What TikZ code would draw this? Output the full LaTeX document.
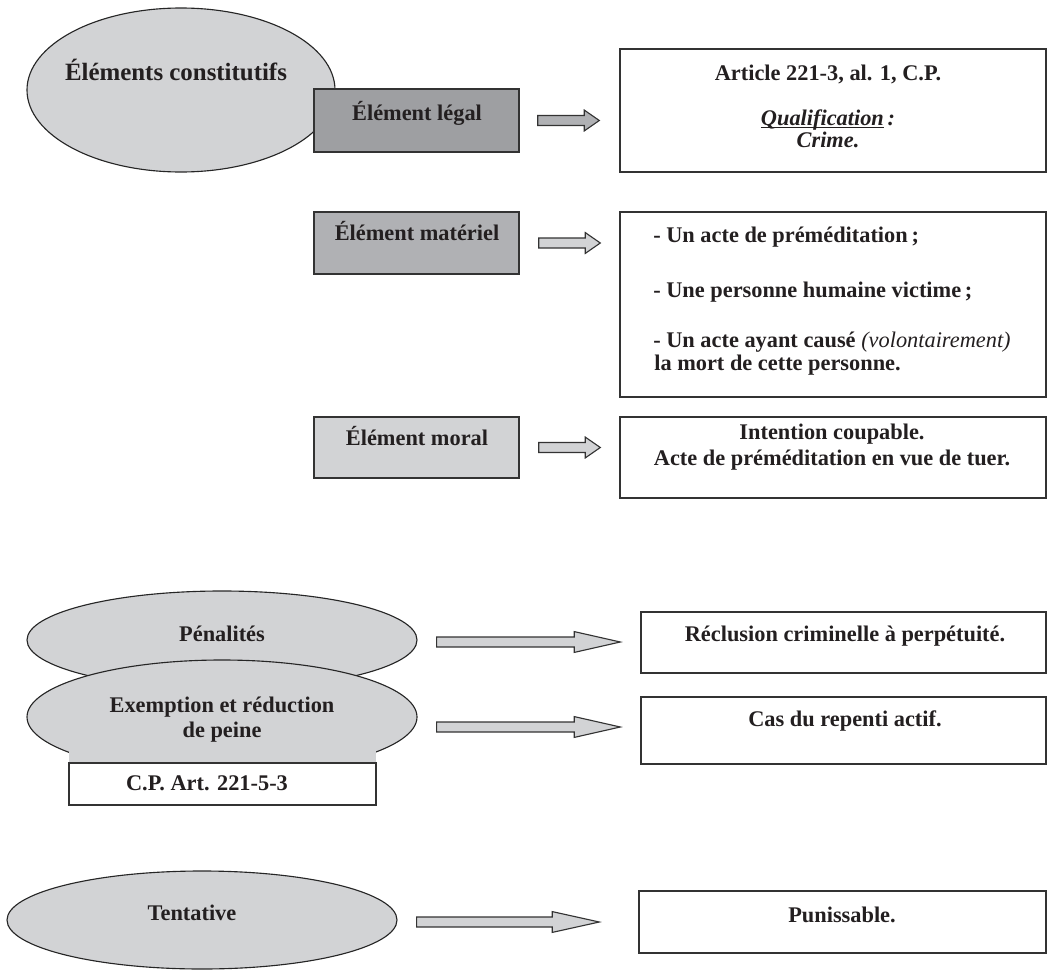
\documentclass[tikz,border=0pt]{standalone}
\usepackage{fontspec}
\setmainfont{Liberation Serif}
\usetikzlibrary{positioning, calc, shapes.geometric}

\definecolor{darkfill}{RGB}{158,159,162}
\definecolor{midfill}{RGB}{176,177,180}
\definecolor{lightfill}{RGB}{210,211,213}
\definecolor{inkcol}{RGB}{35,31,32}

\tikzset{
	boxline/.style={draw=black!80, line width=1pt},
	bubble/.style={draw=black!85, line width=0.8pt, ellipse, fill=lightfill, inner sep=0pt},
	tag/.style={boxline, rectangle, inner sep=0pt},
	txt/.style={text=inkcol, font=\fontsize{15.9}{18}\selectfont\bfseries, inner sep=0pt, text height=0.37cm, text depth=0pt},
	bigtxt/.style={txt, font=\fontsize{17.7}{20}\selectfont\bfseries, text height=0.41cm},
	arrowline/.style={draw=black!80, line width=0.8pt, line join=miter},
}

% underline set just below the baseline, through the descenders
\newcommand{\lowline}[1]{\setbox0\hbox{#1}\rlap{\rule[-1.9pt]{\wd0}{0.9pt}}\box0}

% block arrow: fill, start, target node, gap before target, head length
\newcommand{\blockarrow}[5]{%
	\coordinate (arrowtail) at (#2);
	\coordinate (arrowtip) at ($(#3.west |- arrowtail)+(-#4,0)$);
	\draw[arrowline, fill=#1]
		($(arrowtail)+(0,0.125)$) -- ($(arrowtip)+(-#5,0.125)$) -- ($(arrowtip)+(-#5,0.26)$)
		-- (arrowtip) -- ($(arrowtip)+(-#5,-0.26)$) -- ($(arrowtip)+(-#5,-0.125)$)
		-- ($(arrowtail)+(0,-0.125)$) -- cycle;
}

\begin{document}
\begin{tikzpicture}
	\useasboundingbox (0,0) rectangle (26.2,-24.275);

	% elements constitutifs
	\node[bubble, minimum width=7.7cm, minimum height=4.1cm] at (4.525, -2.25) (constitutifs) {};
	\node[bigtxt] at (4.4, -1.8) (constitutifsT) {Éléments constitutifs};

	\node[tag, fill=darkfill, minimum width=5.125cm, minimum height=1.575cm] at (10.4125, -3.0125) (legal) {};
	\node[txt] at (10.425, -2.825) (legalT) {Élément légal};
	\node[tag, minimum width=10.65cm, minimum height=3.075cm] at (20.825, -2.7625) (article) {};
	\node[txt] at (20.7, -1.825) (articleA) {Article 221-3, al. 1, C.P.};
	\node[txt] at (20.7, -2.95) (articleB) {\itshape\lowline{Qualification}\,:};
	\node[txt] at (20.7, -3.5) (articleC) {\itshape Crime.};

	\node[tag, fill=midfill, minimum width=5.125cm, minimum height=1.55cm] at (10.4125, -6.075) (materiel) {};
	\node[txt] at (10.425, -5.825) (materielT) {Élément matériel};
	\node[tag, minimum width=10.65cm, minimum height=4.625cm] at (20.825, -7.6125) (materielbox) {};
	\node[txt, anchor=west] at (16.325, -5.875) (materielA) {- Un acte de préméditation\,;};
	\node[txt, anchor=west] at (16.325, -7.25) (materielB) {- Une personne humaine victime\,;};
	\node[txt, anchor=west] at (16.325, -8.5) (materielC) {- Un acte ayant causé \textnormal{\itshape(volontairement)}};
	\node[txt, anchor=west] at (16.35, -9.075) (materielD) {la mort de cette personne.};

	\node[tag, fill=lightfill, minimum width=5.125cm, minimum height=1.525cm] at (10.4125, -11.1875) (moral) {};
	\node[txt] at (10.425, -10.95) (moralT) {Élément moral};
	\node[tag, minimum width=10.65cm, minimum height=2.025cm] at (20.825, -11.4375) (moralbox) {};
	\node[txt] at (20.8, -10.8) (moralA) {Intention coupable.};
	\node[txt] at (20.8, -11.45) (moralB) {Acte de préméditation en vue de tuer.};

	\blockarrow{midfill}{$(legal.east)+(0.45,0)$}{article}{0.5}{0.375}
	\blockarrow{lightfill}{$(materiel.east)+(0.475,0)$}{materielbox}{0.475}{0.375}
	\blockarrow{lightfill}{$(moral.east)+(0.475,0)$}{moralbox}{0.475}{0.375}

	% peines
	\node[bubble, minimum width=9.75cm, minimum height=2.45cm] at (5.55, -16.0) (penalites) {};
	\node[txt] at (5.55, -15.85) (penalitesT) {Pénalités};
	\node[bubble, minimum width=9.75cm, minimum height=2.85cm] at (5.55, -17.925) (exemption) {};
	\node[txt] at (5.55, -17.625) (exemptionA) {Exemption et réduction};
	\node[txt] at (5.55, -18.25) (exemptionB) {de peine};
	\node[tag, fill=white, minimum width=7.675cm, minimum height=1.05cm] at (5.5625, -19.6) (cpbox) {};
	\fill[lightfill] ($(cpbox.north west)+(0.02,0.275)$) rectangle ($(cpbox.north east)+(-0.02,0.02)$);
	\node[txt] at (5.175, -19.575) (cpT) {C.P. Art. 221-5-3};

	\node[tag, minimum width=10.125cm, minimum height=1.525cm] at (21.0875, -16.0625) (reclusion) {};
	\node[txt] at (21.125, -15.85) (reclusionT) {Réclusion criminelle à perpétuité.};
	\node[tag, minimum width=10.125cm, minimum height=1.675cm] at (21.0875, -18.2625) (repenti) {};
	\node[txt] at (21.125, -17.975) (repentiT) {Cas du repenti actif.};

	\blockarrow{lightfill}{$(penalites.east)+(0.475,-0.05)$}{reclusion}{0.5}{1.15}
	\blockarrow{lightfill}{$(exemption.east)+(0.475,-0.25)$}{repenti}{0.5}{1.15}

	% tentative
	\node[bubble, minimum width=9.75cm, minimum height=2.45cm] at (5.05, -23.0) (tentative) {};
	\node[txt] at (4.8, -22.825) (tentativeT) {Tentative};
	\node[tag, minimum width=10.175cm, minimum height=1.55cm] at (21.0625, -23.05) (punissable) {};
	\node[txt] at (21.05, -22.875) (punissableT) {Punissable.};

	\blockarrow{lightfill}{$(tentative.east)+(0.475,-0.05)$}{punissable}{0.975}{1.175}

\end{tikzpicture}
\end{document}
